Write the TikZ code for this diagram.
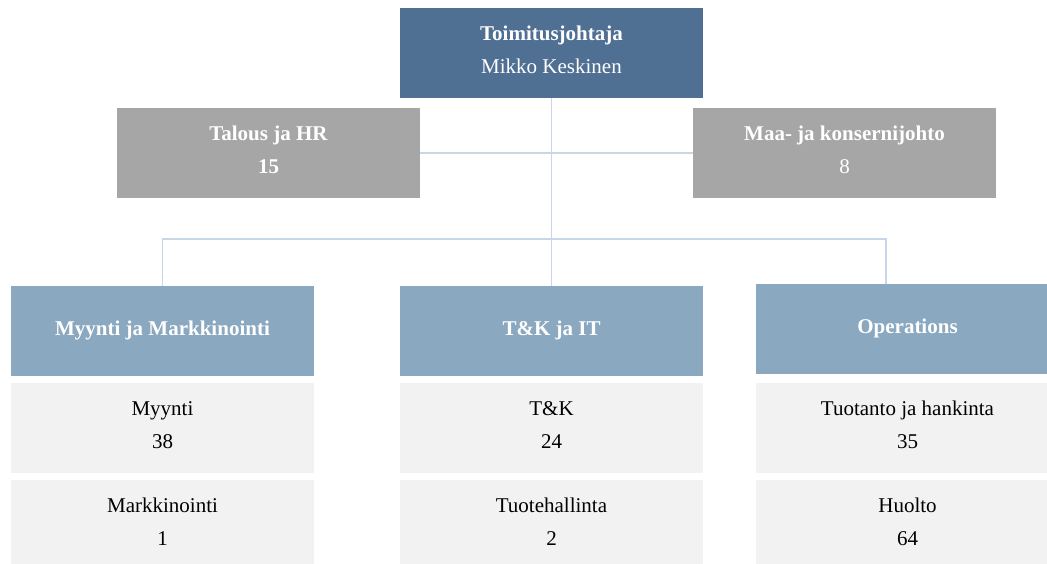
\documentclass[tikz,border=0pt]{standalone}
\usepackage{fontspec}
\setmainfont{Liberation Serif}
\usepackage{xcolor}
\usetikzlibrary{positioning}

\definecolor{ceoblue}{HTML}{4F7093}
\definecolor{staffgrey}{HTML}{A6A6A6}
\definecolor{unitblue}{HTML}{8BA8C1}
\definecolor{cellgrey}{HTML}{F2F2F2}
\definecolor{linkblue}{HTML}{C8D7E5}

\tikzset{
  orgbox/.style={rectangle,minimum width=303pt,minimum height=90pt,inner sep=0pt,
    text depth=6pt,align=center,font=\fontsize{21}{33}\selectfont},
  ceobox/.style={orgbox,fill=ceoblue,text=white},
  staffbox/.style={orgbox,fill=staffgrey,text=white},
  unitbox/.style={orgbox,fill=unitblue,text=white,font=\fontsize{21}{33}\selectfont\bfseries},
  cellbox/.style={orgbox,fill=cellgrey,text=black},
  link/.style={draw=linkblue,line width=1.5pt}
}

\begin{document}
\begin{tikzpicture}[x=1pt,y=-1pt]
    \clip (0,0) rectangle (1047,564);
    \fill[white] (0,0) rectangle (1047,564);
    % johto
    \node[ceobox] (ceo) at (551.5,53) {\textbf{Toimitusjohtaja}\\Mikko Keskinen};
    \node[staffbox] (talous) at (268.5,153) {\textbf{Talous ja HR}\\\textbf{15}};
    \node[staffbox] (maa) at (844.5,153) {\textbf{Maa- ja konsernijohto}\\8};
    % yksiköt
    \node[unitbox] (myy) at (162.5,331) {Myynti ja Markkinointi};
    \node[unitbox] (tk) at (551.5,331) {T\&K ja IT};
    \node[unitbox] (ops) at (907.5,329) {Operations};
    \node[cellbox] (myynti) at (162.5,428) {Myynti\\38};
    \node[cellbox] (mark) at (162.5,525) {Markkinointi\\1};
    \node[cellbox] (tkcell) at (551.5,428) {T\&K\\24};
    \node[cellbox] (tuote) at (551.5,525) {Tuotehallinta\\2};
    \node[cellbox] (tuot) at (907.5,427.5) {Tuotanto ja hankinta\\35};
    \node[cellbox] (huolto) at (907.5,525) {Huolto\\64};
    % viivat
    \coordinate (busR) at (886,239);
    \draw[link] (ceo.south) -- (tk.north);
    \draw[link] (talous.east) -- (maa.west);
    \draw[link] (myy.north) |- (busR) -- (busR |- ops.north);
\end{tikzpicture}
\end{document}
